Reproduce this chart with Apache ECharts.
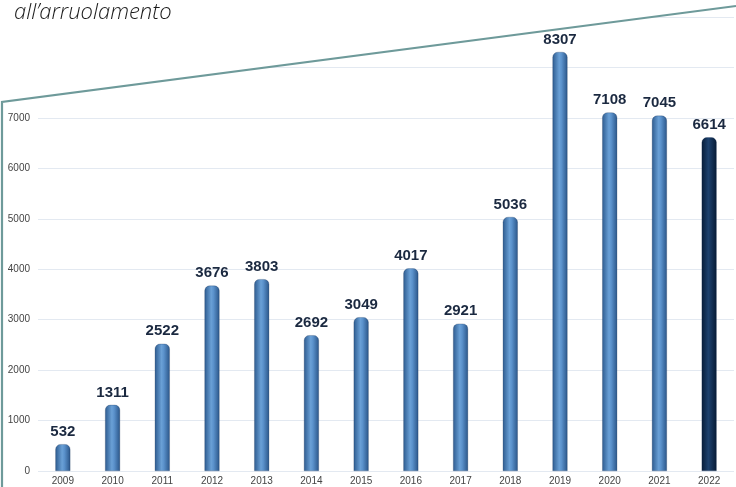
<!DOCTYPE html>
<html><head><meta charset="utf-8">
<script src="https://cdn.jsdelivr.net/npm/echarts@6/dist/echarts.min.js"></script>
<style>html,body{margin:0;padding:0;background:#fff}#c{width:736px;height:487px}</style>
</head><body><div id="c"></div>
<script>
var years = ['2009','2010','2011','2012','2013','2014','2015','2016','2017','2018','2019','2020','2021','2022'];
var values = [532,1311,2522,3676,3803,2692,3049,4017,2921,5036,8307,7108,7045,6614];
var yTicksShownMax = 7000;

var blue = {type:'linear',x:0,y:0,x2:1,y2:0,colorStops:[{offset:0,color:'#2d5b8f'},{offset:0.45,color:'#6aa0d6'},{offset:0.6,color:'#5b92cc'},{offset:1,color:'#2a5588'}]};
var navy = {type:'linear',x:0,y:0,x2:1,y2:0,colorStops:[{offset:0,color:'#071c38'},{offset:0.45,color:'#1d416e'},{offset:1,color:'#061a34'}]};

var data = values.map(function(v,i){
  return {value:v, itemStyle:{color: i===values.length-1 ? navy : blue}};
});

var chart = echarts.init(document.getElementById('c'));
chart.setOption({
  animation:false,
  grid:{left:38,right:2,top:17,bottom:16},
  xAxis:{type:'category',data:years,
    axisLine:{show:false},axisTick:{show:false},
    axisLabel:{color:'#444',fontSize:10,fontFamily:'Liberation Sans, Arial',margin:5}},
  yAxis:{type:'value',min:0,max:9000,interval:1000,
    axisLabel:{color:'#444',fontSize:10,fontFamily:'Liberation Sans, Arial',margin:8,
      formatter:function(v){return v<=yTicksShownMax? String(v):'';}},
    splitLine:{lineStyle:{color:'#e3e9f1',width:1}}},
  series:[{type:'bar',data:data,barWidth:15,
    itemStyle:{borderRadius:[5,5,0,0],borderColor:'rgba(20,45,80,0.5)',borderWidth:0.5},
    label:{show:true,position:'top',distance:5,color:'#1b2940',fontSize:15,fontWeight:'bold',fontFamily:'Liberation Sans, Arial'}}],
  graphic:[
    {type:'polygon',z:100,shape:{points:[[0,0],[736,0],[736,6],[2,102],[0,102]]},style:{fill:'#fff'}},
    {type:'polyline',z:101,shape:{points:[[2,487],[2,102],[736,6]]},style:{stroke:'#6e9a9a',lineWidth:2.2,fill:null}},
    {type:'text',z:102,left:14,top:2,style:{text:'all\u2019arruolamento',fill:'#1a1a1a',font:'italic 300 22px "Open Sans"'}}
  ]
});
</script></body></html>
